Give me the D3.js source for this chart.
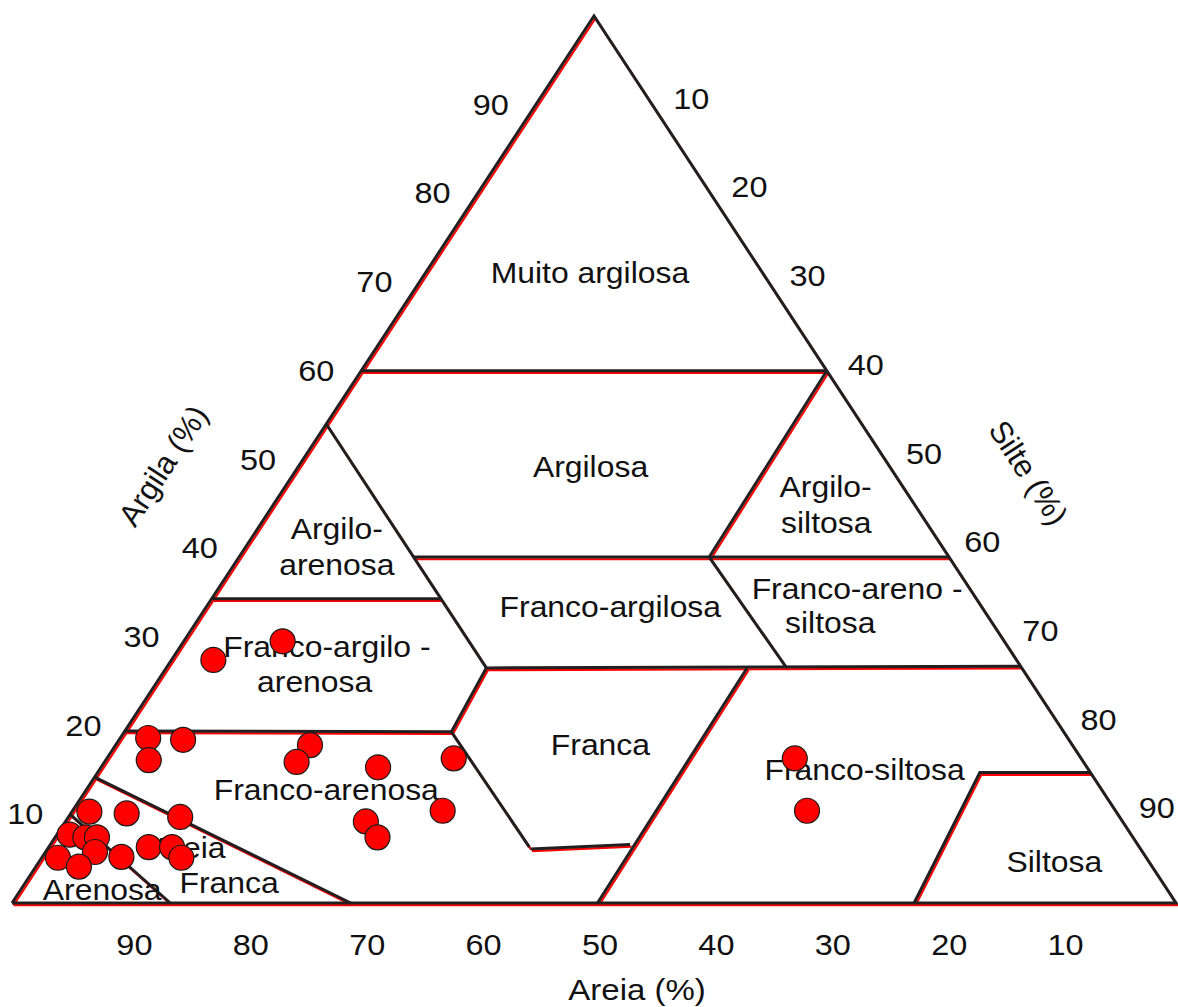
<!DOCTYPE html>
<html><head><meta charset="utf-8">
<script src="https://cdn.jsdelivr.net/npm/d3@7"></script>
<style>html,body{margin:0;padding:0;background:#fff;} svg{display:block;}</style>
</head><body><svg id="chart" width="1178" height="1007"></svg>
<script>
// ---- data (percent) ----
const sampleSand = [79.0,76.1,80.2,88.2,85.1,80.7,91.2,90.0,89.0,90.0,93.5,92.2,88.0,85.1,83.1,82.9,65.5,67.6,60.9,53.9,57.8,65.0,64.9,62.0,69.0,24.6,26.5];
const sampleClay = [18.6,18.4,16.1,10.3,10.1,9.7,7.7,7.4,7.4,5.75,5.1,4.1,5.2,6.3,6.3,5.1,17.8,15.9,15.3,16.3,10.4,9.2,7.4,29.5,27.4,16.3,10.4];

const argilaTicks = [10,20,30,40,50,60,70,80,90];
const silteTicks = [10,20,30,40,50,60,70,80,90];
const areiaTicks = [90,80,70,60,50,40,30,20,10];

// class boundaries, each point = [sand, clay]
const outline = [[100,0],[0,0],[0,100],[100,0]];
const boundaryLines = [
  [[40,60],[0,60]],
  [[46,54],[46,26.5]],
  [[46,39],[0,39]],
  [[65.7,34.3],[46,34.3]],
  [[20.6,39],[0,60]],
  [[20.6,39],[20.2,26.5]],
  [[46,26.5],[0,26.7]],
  [[23.6,26.5],[49.7,0]],
  [[46,26.5],[52.6,19.3]],
  [[80.6,19.4],[52.6,19.3]],
  [[52.6,19.3],[52.4,6.3]],
  [[52.4,6.1],[43.6,6.6]],
  [[85.8,14.2],[70.9,0]],
  [[90,10],[86.4,0]],
  [[22.5,0],[9.5,14.7],[0,14.7]]
];

const classNames = ["Muito argilosa","Argilosa","Argilo-","siltosa","Argilo-","arenosa","Franco-argilosa",
  "Franco-areno -","siltosa","Franco-argilo -","arenosa","Franco-arenosa","Franca","Franco-siltosa",
  "Siltosa","Areia","Franca","Arenosa"];
const classSand = [15.4,26.3,7.2,9.2,51.6,53.6,32.5,10.25,14.5,59.1,62.1,67.2,41.1,19.8,8.7,82.3,80.8,92.1];
const classClay = [69.9,48.0,45.8,41.7,41.0,37.0,32.2,34.3,30.4,27.7,23.8,11.6,16.7,13.9,3.5,5.1,1.1,0.3];

// ---- layout ----
const svg = d3.select("#chart");
const xScale = d3.scaleLinear().domain([0,100]).range([12,1176]);
const yScale = d3.scaleLinear().domain([0,100]).range([903,16]);
const pt = (sand, clay) => [xScale(100 - sand - clay/2), yScale(clay)];
const lineGen = d3.line().x(d => pt(d[0], d[1])[0]).y(d => pt(d[0], d[1])[1]);
const FONT = "'Liberation Sans', Arial, sans-serif";
const STRETCH = 1.1;

svg.append("rect").attr("width",1178).attr("height",1007).attr("fill","#fff");

const allLines = [outline].concat(boundaryLines);
// red underlay
svg.append("g").attr("transform","translate(1.5,2.2)")
  .selectAll("path").data(allLines).join("path")
  .attr("d", lineGen).attr("fill","none").attr("stroke","#ff0000")
  .attr("stroke-width",2.2).attr("stroke-linejoin","miter");
// black lines
svg.append("g")
  .selectAll("path").data(allLines).join("path")
  .attr("d", lineGen).attr("fill","none").attr("stroke","#231f20")
  .attr("stroke-width",3).attr("stroke-linejoin","miter");

function stretchedText(g, x, y, txt, size) {
  g.append("g").attr("transform", `translate(${x},${y}) scale(${STRETCH},1)`)
    .append("text").attr("text-anchor","middle")
    .attr("font-family", FONT).attr("font-size", size).attr("fill","#111")
    .text(txt);
}

// class labels
const labG = svg.append("g");
classNames.forEach((n,i) => {
  const p = pt(classSand[i], classClay[i]);
  stretchedText(labG, p[0], p[1], n, 29);
});

// tick labels
const tickG = svg.append("g");
argilaTicks.forEach(c => {
  const p = pt(100 - c, c);
  stretchedText(tickG, p[0] - 45, p[1] + 10, String(c), 29.5);
});
silteTicks.forEach(s => {
  const p = pt(0, 100 - s);
  stretchedText(tickG, p[0] + 39, p[1] + 4, String(s), 29.5);
});
areiaTicks.forEach(a => {
  const p = pt(a, 0);
  stretchedText(tickG, p[0] + 6, p[1] + 52, String(a), 29.5);
});

// axis titles
stretchedText(svg, xScale(53.7), 1000, "Areia (%)", 30);
svg.append("text").attr("transform", `translate(${xScale(13.0)},${yScale(49.3)}) rotate(-57)`)
  .attr("text-anchor","middle").attr("dominant-baseline","central")
  .attr("font-family", FONT).attr("font-size", 31).attr("fill","#111").text("Argila (%)");
svg.append("text").attr("transform", `translate(${xScale(87.3)},${yScale(48.5)}) rotate(57)`)
  .attr("text-anchor","middle").attr("dominant-baseline","central")
  .attr("font-family", FONT).attr("font-size", 31).attr("fill","#111").text("Silte (%)");

// samples
svg.append("g").selectAll("circle").data(sampleSand).join("circle")
  .attr("cx", (d,i) => pt(d, sampleClay[i])[0])
  .attr("cy", (d,i) => pt(d, sampleClay[i])[1])
  .attr("r", 12.5).attr("fill","#ff0000").attr("stroke","#1a1a1a").attr("stroke-width",1.2);
</script></body></html>
